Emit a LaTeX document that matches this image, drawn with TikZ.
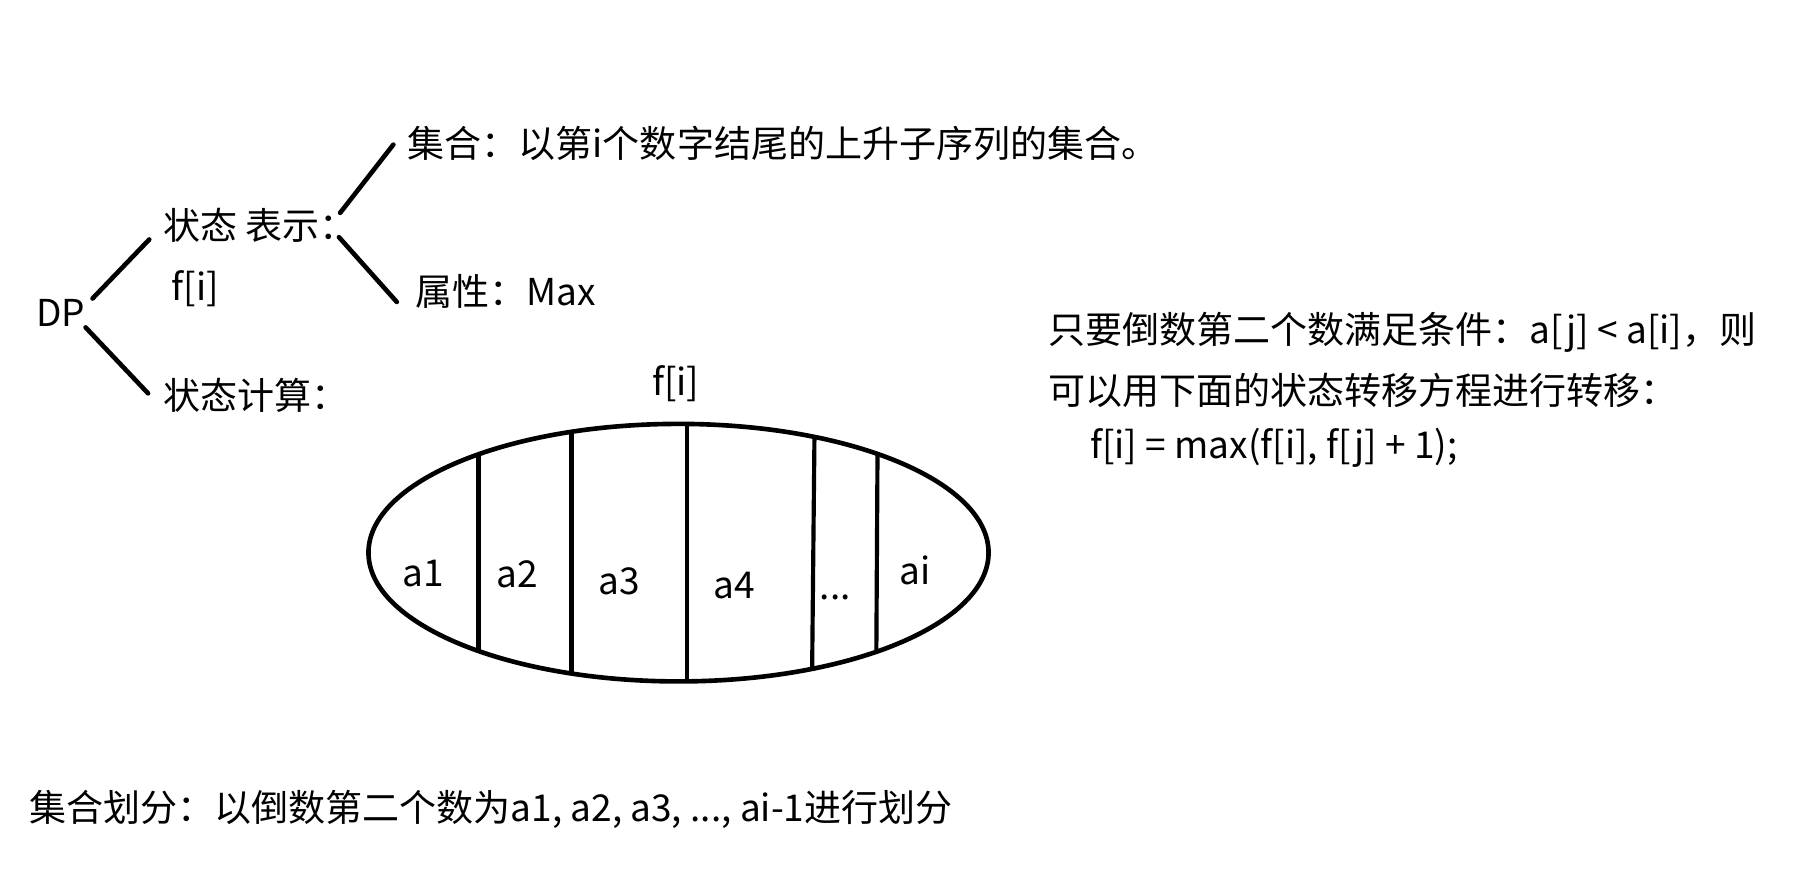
\documentclass[tikz,border=0pt]{standalone}
\usepackage{fontspec}
\setmainfont{Noto Sans CJK SC}
\usetikzlibrary{shapes.geometric}
\begin{document}
\begin{tikzpicture}[x=0.5pt,y=-0.5pt,
  txt/.style={anchor=base west, inner sep=0pt, font=\fontsize{16pt}{20pt}\selectfont},
  lbl/.style={anchor=base, inner sep=0pt, font=\fontsize{16pt}{20pt}\selectfont},
  ln/.style={line width=2pt, line cap=round},
  part/.style={line width=1.8pt}]
\useasboundingbox (0,0) rectangle (1568,772.8);
\fill[white] (0,0) rectangle (1568,772.8);
% tree texts
\node[txt] (dp) at (31,282) {DP};
\node[txt] (rep) at (141,207) {状态 表示：};
\node[txt] (fi) at (148,260) {f[i]};
\node[txt] (calc) at (141,354) {状态计算：};
\node[txt] (set) at (352,136) {集合：以第i个数字结尾的上升子序列的集合。};
\node[txt] (attr) at (359,264) {属性：Max};
% connectors
\coordinate (c1) at (80,258);  \coordinate (c2) at (129,207);
\coordinate (c3) at (74,283);  \coordinate (c4) at (128,340);
\coordinate (c5) at (294,184); \coordinate (c6) at (340,125);
\coordinate (c7) at (293,205); \coordinate (c8) at (343,261);
\draw[ln] (c1) -- (c2);
\draw[ln] (c3) -- (c4);
\draw[ln] (c5) -- (c6);
\draw[ln] (c7) -- (c8);
% ellipse
\node[lbl] (ftop) at (584,342) {f[i]};
\node[draw, ellipse, ln, minimum width=268pt, minimum height=111.3pt, inner sep=0pt] (whole) at (586.5,477.7) {};
\draw[part] (413.6,392.7) -- (413.6,562.7);
\draw[part] (494,373.2) -- (494,582.2);
\draw[part] (594,366.4) -- (594,589.0);
\draw[part] (704,377.7) -- (702,578.1);
\draw[part] (758.5,392.3) -- (757.5,563.4);
\node[lbl] (l1) at (366,507) {a1};
\node[lbl] (l2) at (447,508) {a2};
\node[lbl] (l3) at (535,514) {a3};
\node[lbl] (l4) at (635,517) {a4};
\node[lbl] (l5) at (722,518) {...};
\node[lbl] (l6) at (791,505) {ai};
% right text
\node[txt] (cond1) at (906,297) {只要倒数第二个数满足条件：a[j] < a[i]，则};
\node[txt] (cond2) at (906,350) {可以用下面的状态转移方程进行转移：};
\node[txt] (eq) at (942,396) {f[i] = max(f[i], f[j] + 1);};
% bottom text
\node[txt] (div) at (25,710) {集合划分：以倒数第二个数为a1, a2, a3, ..., ai-1进行划分};
\end{tikzpicture}
\end{document}
